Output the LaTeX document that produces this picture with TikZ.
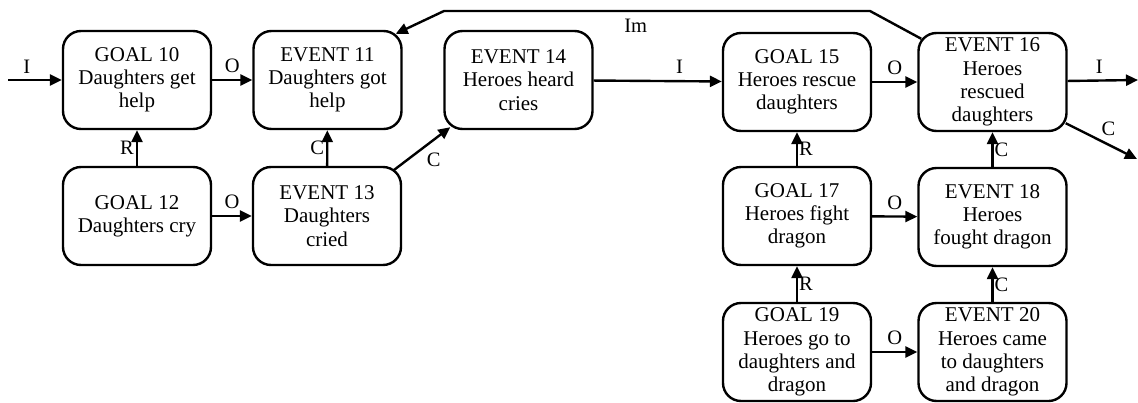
\documentclass[tikz,border=0pt]{standalone}
\usepackage{fontspec}
\setmainfont{Liberation Serif}
\usetikzlibrary{positioning,arrows.meta}

\begin{document}
\begin{tikzpicture}[x=1pt,y=-1pt,
	box/.style={rectangle,draw,rounded corners=18pt,line width=2.4pt,minimum width=148pt,minimum height=98pt,inner sep=0pt,align=center,font=\fontsize{21}{23.2}\selectfont},
	link/.style={-{Triangle[length=12pt,width=11pt]},line width=2.4pt},
	lbl/.style={font=\fontsize{20.5}{22}\selectfont,inner sep=2pt}]
\useasboundingbox (0,0) rectangle (1138,402);

\node [box] (g10) at (137,80) {GOAL 10\\Daughters get\\help};
\node [box] (e11) at (327.5,80) {EVENT 11\\Daughters got\\help};
\node [box] (g12) at (137,216) {GOAL 12\\Daughters cry};
\node [box] (e13) at (327,216) {EVENT 13\\Daughters\\cried};
\node [box] (e14) at (518.5,80) {EVENT 14\\Heroes heard\\cries};
\node [box] (g15) at (797,82) {GOAL 15\\Heroes rescue\\daughters};
\node [box] (e16) at (992.5,82) {EVENT 16\\Heroes\\rescued\\daughters};
\node [box] (g17) at (797,216) {GOAL 17\\Heroes fight\\dragon};
\node [box] (e18) at (992.5,217) {EVENT 18\\Heroes\\fought dragon};
\node [box] (g19) at (797,352) {GOAL 19\\Heroes go to\\daughters and\\dragon};
\node [box] (e20) at (992.5,352) {EVENT 20\\Heroes came\\to daughters\\and dragon};

% free ends and bends
\coordinate (in) at (8,80);
\coordinate (out1) at (1138,80);
\coordinate (out2) at (1137,159);
\coordinate (imr) at (870,11);
\coordinate (iml) at (444,11);

\draw[link] (in) -- node[lbl,above=3pt,pos=0.35] {I} (g10);
\draw[link] (g10) -- node[lbl,above=4pt] {O} (e11);
\draw[link] (g12) -- node[lbl,left] {R} (g10);
\draw[link] (e13) -- node[lbl,left] {C} (e11);
\draw[link] (g12) -- node[lbl,above=4pt] {O} (e13);
\draw[link] ([xshift=-8pt,yshift=-4pt]e13.north east) -- node[lbl,below right=2pt] {C} ([xshift=7pt,yshift=3pt]e14.south west);
\draw[link] (e14) -- node[lbl,above=4pt,pos=0.67] {I} (g15);
\draw[link] (g15) -- node[lbl,above=4pt] {O} (e16);
\draw[link] (e16) -- node[lbl,above=4pt,pos=0.45] {I} (out1);
\draw[link] ([xshift=-2pt,yshift=9pt]e16.south east) -- node[lbl,above right=1pt,pos=0.45] {C} (out2);
\draw[link] ([xshift=4pt,yshift=-7pt]e16.north west) -- (imr) -- node[lbl,below=5pt,pos=0.55] {Im} (iml) -- ([xshift=-7pt,yshift=-4pt]e11.north east);
\draw[link] (g17) -- node[lbl,right,inner sep=1pt] {R} (g15);
\draw[link] (e18) -- node[lbl,right,inner sep=1pt] {C} (e16);
\draw[link] (g17) -- node[lbl,above=4pt] {O} (e18);
\draw[link] (g19) -- node[lbl,right,inner sep=1pt] {R} (g17);
\draw[link] (e20) -- node[lbl,right,inner sep=1pt] {C} (e18);
\draw[link] (g19) -- node[lbl,above=4pt] {O} (e20);
\end{tikzpicture}
\end{document}
